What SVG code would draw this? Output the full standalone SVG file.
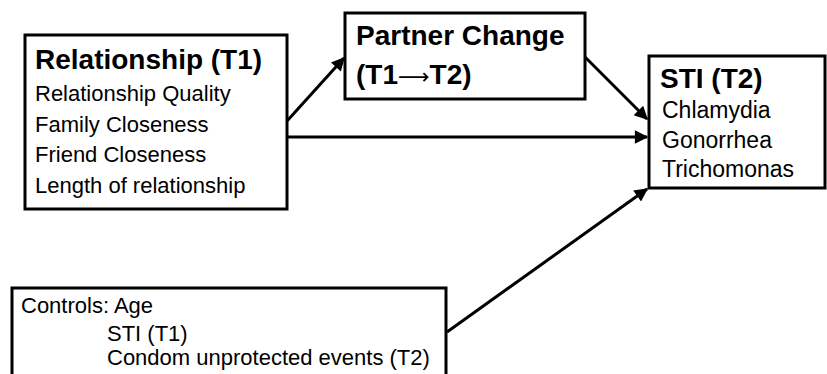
<svg xmlns="http://www.w3.org/2000/svg" width="827" height="374" viewBox="0 0 827 374">
<style>
.box{fill:#fff;stroke:#000;stroke-width:3}
.t{font-family:"Liberation Sans",Arial,sans-serif;fill:#000}
.b{font-weight:bold;font-size:28px}
.r{font-size:22px}
.s{font-size:23px}
.arr{font-family:"DejaVu Sans",sans-serif;font-weight:normal;font-size:22px}
.edge{stroke:#000;stroke-width:3;fill:none;marker-end:url(#ah)}
</style>
<defs>
<marker id="ah" viewBox="0 0 10 10" refX="9" refY="5" markerWidth="5" markerHeight="4.5" orient="auto" markerUnits="strokeWidth">
<path d="M0,0 L10,5 L0,10 z" fill="#000"/>
</marker>
</defs>
<rect width="827" height="374" fill="#fff"/>
<g id="connectors">
<line class="edge" x1="287" y1="121" x2="344" y2="58"/>
<line class="edge" x1="287" y1="137" x2="647" y2="137"/>
<line class="edge" x1="585" y1="57" x2="647" y2="119"/>
<line class="edge" x1="447" y1="332" x2="647" y2="189"/>
</g>
<g id="relationship">
<rect class="box" x="25" y="35" width="262" height="174"/>
<text class="t b" x="35" y="69">Relationship (T1)</text>
<text class="t r" x="35" y="101">Relationship Quality</text>
<text class="t r" x="35" y="131.5">Family Closeness</text>
<text class="t r" x="35" y="162">Friend Closeness</text>
<text class="t r" x="35" y="192.5">Length of relationship</text>
</g>
<g id="partner">
<rect class="box" x="345" y="13" width="240" height="86"/>
<text class="t b" x="356" y="84">(T1<tspan class="arr">⟶</tspan>T2)</text>
<text class="t b" x="356" y="45">Partner Change</text>
</g>
<g id="sti">
<rect class="box" x="649" y="56" width="176" height="132"/>
<text class="t b" x="660" y="88">STI (T2)</text>
<text class="t s" x="662" y="118">Chlamydia</text>
<text class="t s" x="662" y="147.5">Gonorrhea</text>
<text class="t s" x="662" y="177">Trichomonas</text>
</g>
<g id="controls">
<rect class="box" x="12" y="288" width="434" height="100"/>
<text class="t r" x="21" y="313">Controls: Age</text>
<text class="t r" x="107" y="341">STI (T1)</text>
<text class="t r" x="107" y="365">Condom unprotected events (T2)</text>
</g>
</svg>
